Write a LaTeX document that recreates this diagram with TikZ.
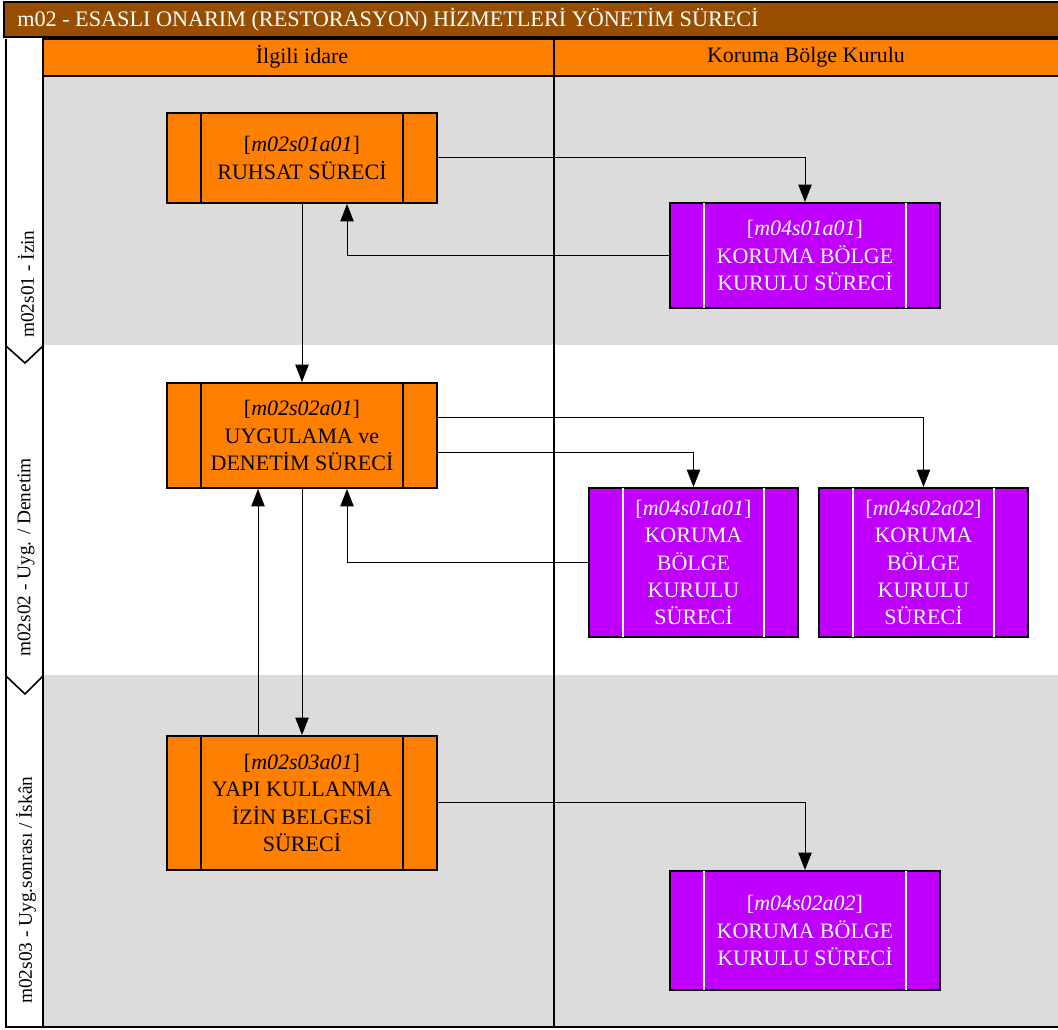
\documentclass[tikz,border=0pt]{standalone}
\usepackage{fontspec}
\setmainfont{Liberation Serif}
\usetikzlibrary{arrows.meta,calc}
\definecolor{titlebrown}{HTML}{984E00}
\definecolor{laneorange}{HTML}{FF8000}
\definecolor{procpurple}{HTML}{BF00FF}
\definecolor{bandgray}{HTML}{DCDCDC}
\newcommand\sidebars[3]{%
  \draw[line width=1.5pt,#3,shorten <=0.8pt,shorten >=0.8pt] ($(#1.north west)+(#2,0)$) -- ($(#1.south west)+(#2,0)$);
  \draw[line width=1.5pt,#3,shorten <=0.8pt,shorten >=0.8pt] ($(#1.north east)+(-#2,0)$) -- ($(#1.south east)+(-#2,0)$);}
\begin{document}
\begin{tikzpicture}[x=0.75pt,y=-0.75pt,
  frame/.style={line width=1.5pt},
  conn/.style={line width=0.75pt,-{Triangle[length=13pt,width=10pt]}},
  boxbase/.style={draw=black,line width=1.5pt,inner sep=0pt,align=center,
    font=\fontsize{16.5}{20.3}\selectfont},
  orangebox/.style={boxbase,fill=laneorange,text=black,minimum width=202.5pt},
  purplebox/.style={boxbase,fill=procpurple,text=white},
  headtext/.style={font=\fontsize{16.5}{20}\selectfont,inner sep=0pt},
  lanelabel/.style={font=\fontsize{14.5}{17}\selectfont,inner sep=0pt,rotate=90,anchor=west}]
\useasboundingbox (0,0) rectangle (1058,1030);
% bands
\fill[bandgray] (43,76) rectangle (1060,345);
\fill[white] (43,345) rectangle (1060,675);
\fill[bandgray] (43,675) rectangle (1060,1027);
% title bar
\draw[frame,fill=titlebrown] (4,2) rectangle (1064,37);
\node[headtext,text=white,anchor=west,font=\fontsize{16.65}{20}\selectfont] (title) at (17,19.5) {m02 - ESASLI ONARIM (RESTORASYON) HİZMETLERİ YÖNETİM SÜRECİ};
% lane headers
\draw[frame,fill=laneorange] (43,39) rectangle (554,76);
\draw[frame,fill=laneorange] (554,39) rectangle (1064,76);
\node[headtext] (h1) at (302,57) {İlgili idare};
\node[headtext] (h2) at (806,57) {Koruma Bölge Kurulu};
% frame lines
\draw[frame] (6,39) -- (6,1027) -- (1064,1027);
\draw[frame] (43,39) -- (43,1027);
\draw[frame] (554,76) -- (554,1027);
\draw[line width=1.2pt] (6,346) -- (25,363) -- (43,346);
\draw[line width=1.2pt] (6,676) -- (25,694) -- (43,676);
% lane labels
\node[lanelabel] (l1) at (26,338) {m02s01 - İzin};
\node[lanelabel] (l2) at (26,657) {m02s02 - Uyg. / Denetim};
\node[lanelabel] (l3) at (26,1004) {m02s03 - Uyg.sonrası / İskân};
% boxes
\node[orangebox,minimum height=67.5pt] (A1) at (302,158) {[\textit{m02s01a01}]\\RUHSAT SÜRECİ};
\node[orangebox,minimum height=78.75pt] (A2) at (302,435.5) {[\textit{m02s02a01}]\\UYGULAMA ve\\DENETİM SÜRECİ};
\node[orangebox,minimum height=100.5pt] (A3) at (302,803) {[\textit{m02s03a01}]\\YAPI KULLANMA\\İZİN BELGESİ\\SÜRECİ};
\node[purplebox,minimum width=202.5pt,minimum height=78.75pt] (B1) at (805,255.5) {[\textit{m04s01a01}]\\KORUMA BÖLGE\\KURULU SÜRECİ};
\node[purplebox,minimum width=156.75pt,minimum height=111.75pt] (B2) at (693.5,562.5) {[\textit{m04s01a01}]\\KORUMA\\BÖLGE\\KURULU\\SÜRECİ};
\node[purplebox,minimum width=156.75pt,minimum height=111.75pt] (B3) at (923.5,562.5) {[\textit{m04s02a02}]\\KORUMA\\BÖLGE\\KURULU\\SÜRECİ};
\node[purplebox,minimum width=202.5pt,minimum height=89.25pt] (B4) at (805,930.5) {[\textit{m04s02a02}]\\KORUMA BÖLGE\\KURULU SÜRECİ};
\sidebars{A1}{35}{black}
\sidebars{A2}{35}{black}
\sidebars{A3}{35}{black}
\sidebars{B1}{35}{white}
\sidebars{B2}{35}{white}
\sidebars{B3}{35}{white}
\sidebars{B4}{35}{white}
% connectors
\draw[conn] (A1.east) -| (B1.north);
\draw[conn] (B1.west) -| ($(A1.south)+(45,0)$);
\draw[conn] (A1.south) -- (A2.north);
\draw[conn] ($(A2.east)+(0,-17.5)$) -| (B3.north);
\draw[conn] ($(A2.east)+(0,17.5)$) -| (B2.north);
\draw[conn] (B2.west) -| ($(A2.south)+(45,0)$);
\draw[conn] (A2.south) -- (A3.north);
\draw[conn] ($(A3.north)+(-44,0)$) -- ($(A2.south)+(-44,0)$);
\draw[conn] ($(A3.east)+(0,-1)$) -| (B4.north);
\end{tikzpicture}
\end{document}
